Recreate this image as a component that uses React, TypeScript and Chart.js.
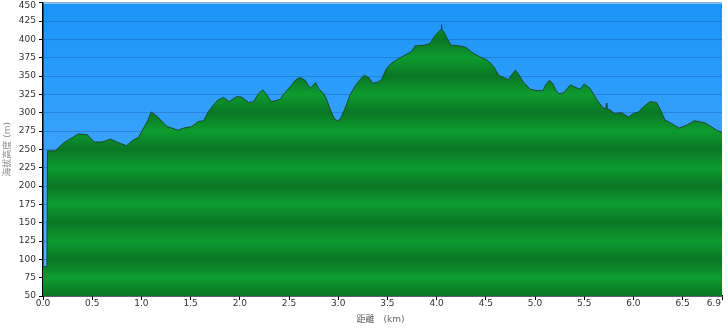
import { useEffect, useRef } from "react";
import { Chart, registerables } from "chart.js";

Chart.register(...registerables);

const distanceKm = [
  0, 0.04, 0.045, 0.127, 0.21, 0.31, 0.36, 0.45, 0.52, 0.6, 0.685, 0.77, 0.85, 0.92, 0.97,
  1.01, 1.06, 1.1, 1.16, 1.26, 1.31, 1.37, 1.43, 1.51, 1.58, 1.63, 1.68, 1.73, 1.775, 1.835,
  1.89, 1.97, 2.02, 2.09, 2.14, 2.19, 2.235, 2.275, 2.32, 2.41, 2.45, 2.51, 2.57, 2.61, 2.665,
  2.715, 2.77, 2.8, 2.85, 2.885, 2.92, 2.96, 2.99, 3.02, 3.07, 3.12, 3.17, 3.22, 3.265, 3.31,
  3.35, 3.41, 3.44, 3.49, 3.53, 3.56, 3.63, 3.7, 3.75, 3.78, 3.87, 3.93, 3.985, 4.03, 4.045,
  4.05, 4.055, 4.075, 4.1, 4.145, 4.24, 4.3, 4.36, 4.44, 4.51, 4.58, 4.63, 4.68, 4.73, 4.76,
  4.8, 4.83, 4.88, 4.95, 5.02, 5.08, 5.11, 5.145, 5.18, 5.21, 5.24, 5.29, 5.36, 5.42, 5.46,
  5.5, 5.56, 5.63, 5.69, 5.72, 5.725, 5.73, 5.76, 5.81, 5.88, 5.95, 6.0, 6.05, 6.12, 6.17,
  6.235, 6.275, 6.32, 6.39, 6.465, 6.54, 6.62, 6.73, 6.79, 6.845, 6.9,
];

const elevationM = [
  90, 90, 248, 248, 259, 267, 271, 270, 260, 260, 264, 259, 255, 263, 266,
  276, 288, 301, 295, 281, 279, 276, 279, 281, 288, 289, 301, 310, 317, 321,
  315, 322, 321, 314, 315, 326, 331, 324, 315, 318, 326, 335, 345, 348, 344,
  333, 341, 333, 326, 317, 304, 292, 289, 291, 306, 324, 336, 345, 351, 348,
  340, 342, 345, 360, 366, 369, 375, 380, 384, 391, 392, 394, 405, 412, 413,
  420, 413, 410, 403, 392, 391, 389, 382, 376, 372, 363, 351, 348, 345, 351,
  358, 353, 342, 332, 330, 330, 338, 344, 340, 331, 326, 327, 338, 334, 332,
  339, 333, 317, 307, 305, 313, 305, 304, 299, 300, 294, 299, 301, 310, 315,
  314, 304, 290, 285, 279, 283, 289, 286, 281, 276, 273,
];

const xTickValues = [0, 0.5, 1, 1.5, 2, 2.5, 3, 3.5, 4, 4.5, 5, 5.5, 6, 6.5, 6.9];
const yMin = 50;
const yMax = 450;
const yStep = 25;
const xTitle = "距離　(km)";
const yTitle = "海拔高度 (m)";

const FONT = '"DejaVu Sans", "Noto Sans CJK TC", "Noto Sans CJK SC", sans-serif';

export default function App() {
  const ref = useRef<HTMLCanvasElement | null>(null);

  useEffect(() => {
    if (!ref.current) return;
    const points = distanceKm.map((x, i) => ({ x, y: elevationM[i] }));

    const bgPlugin = {
      id: "bgPlugin",
      beforeDraw(chart: any) {
        const { ctx, chartArea } = chart;
        if (!chartArea) return;
        const g = ctx.createLinearGradient(0, chartArea.top, 0, chartArea.bottom);
        g.addColorStop(0, "rgb(26,148,248)");
        g.addColorStop(1, "rgb(92,178,255)");
        ctx.save();
        ctx.fillStyle = g;
        ctx.fillRect(chartArea.left, chartArea.top, chartArea.right - chartArea.left, chartArea.bottom - chartArea.top);
        ctx.fillStyle = "rgba(190,228,255,0.9)";
        ctx.fillRect(chartArea.left, chartArea.top, chartArea.right - chartArea.left, 1);
        ctx.restore();
      },
      afterDraw(chart: any) {
        const { ctx, chartArea, scales } = chart;
        const xs = scales.x;
        const ys = scales.y;
        ctx.save();
        ctx.font = "9px " + FONT;
        ctx.fillStyle = "#333";
        ctx.textBaseline = "middle";
        ctx.textAlign = "center";
        xTickValues.forEach((v) => {
          const label = v.toFixed(1);
          const w = ctx.measureText(label).width;
          let px = xs.getPixelForValue(v);
          px = Math.min(px, chart.width - 7 - w / 2);
          ctx.fillText(label, px, chartArea.bottom + 8);
        });
        ctx.textAlign = "right";
        for (let v = yMin; v <= yMax; v += yStep) {
          let py = ys.getPixelForValue(v);
          py = Math.max(py, 6);
          ctx.fillText(String(v), chartArea.left - 7, py);
        }
        ctx.fillStyle = "#666";
        ctx.textAlign = "center";
        ctx.fillText(xTitle, (chartArea.left + chartArea.right) / 2 - 2, 320);
        ctx.fillStyle = "#8c8c8c";
        ctx.translate(8, (chartArea.top + chartArea.bottom) / 2);
        ctx.rotate(-Math.PI / 2);
        ctx.fillText(yTitle, 0, 0);
        ctx.restore();
      },
    };

    const chart = new Chart(ref.current, {
      type: "line",
      data: {
        datasets: [
          {
            data: points,
            borderColor: "#1c4a2a",
            borderWidth: 1,
            pointRadius: 0,
            tension: 0,
            fill: "start",
            backgroundColor: (c: any) => {
              const ch = c.chart;
              const { chartArea, scales } = ch;
              if (!chartArea || !scales.y) return "#0e9a32";
              const y = scales.y;
              const top = y.getPixelForValue(yMax);
              const bottom = y.getPixelForValue(yMin);
              const g = ch.ctx.createLinearGradient(0, top, 0, bottom);
              for (let v = yMax; v >= yMin; v -= yStep) {
                const s = (y.getPixelForValue(v) - top) / (bottom - top);
                g.addColorStop(Math.min(1, Math.max(0, s)), v % 50 === 0 ? "rgb(9,118,36)" : "rgb(14,156,48)");
              }
              return g;
            },
          },
        ],
      },
      options: {
        responsive: false,
        animation: false,
        layout: { padding: { top: 2.7, right: 6, left: 0, bottom: 0 } },
        plugins: { legend: { display: false }, tooltip: { enabled: false } },
        scales: {
          x: {
            type: "linear",
            min: 0,
            max: 6.9,
            afterBuildTicks: (s: any) => {
              s.ticks = xTickValues.map((v) => ({ value: v }));
            },
            afterFit: (s: any) => {
              s.height = 32;
            },
            ticks: { display: false },
            grid: { drawOnChartArea: false, drawTicks: true, tickLength: 4, tickColor: "#000", tickWidth: 1 },
            border: { display: true, color: "#000", width: 1.5 },
          },
          y: {
            min: yMin,
            max: yMax,
            ticks: { display: false, stepSize: yStep },
            afterFit: (s: any) => {
              s.width = 43;
            },
            grid: {
              color: "rgba(10,70,150,0.3)",
              lineWidth: 1,
              drawTicks: true,
              tickLength: 4,
              tickColor: "#000",
            },
            border: { display: true, color: "#000", width: 1.5 },
          },
        },
      },
      plugins: [bgPlugin],
    });
    return () => chart.destroy();
  }, []);

  return (
    <div style={{ position: "absolute", left: 0, top: 0, width: 728, height: 328, background: "#fff" }}>
      <canvas ref={ref} width={728} height={328} style={{ display: "block" }} />
    </div>
  );
}
